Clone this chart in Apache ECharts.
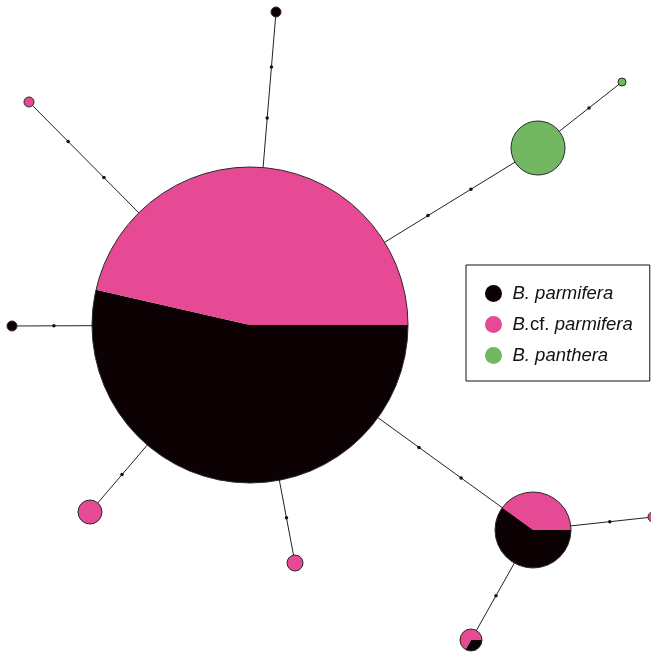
<!DOCTYPE html>
<html><head><meta charset="utf-8">
<script src="https://cdn.jsdelivr.net/npm/echarts@6/dist/echarts.min.js"></script>
<style>html,body{margin:0;padding:0;background:#fff}#c{width:651px;height:652px}</style>
</head><body><div id="c"></div>
<script>
// Haplotype nodes
const nodeNames = ['H1','H2','H3','H4','H5','H6','H7','H8','H9','H10','H11'];
const nodeX     = [250, 276,  29,  12,  90, 295, 538, 622, 533, 653, 471];
const nodeY     = [325,  12, 102, 326, 512, 563, 148,  82, 530, 517, 640];
const nodeSize  = [158,   5,   5,   5,  12,   8,  27,   4,  38,   5,  11];
const countParmifera   = [15, 1, 0, 1, 0, 0, 0, 0, 3, 0, 1];
const countCfParmifera = [13, 0, 1, 0, 1, 1, 0, 0, 2, 1, 2];
const countPanthera    = [ 0, 0, 0, 0, 0, 0, 1, 1, 0, 0, 0];
// Edges (index of node)
const edgeFrom = [0, 0, 0, 0, 0, 0, 6, 0, 8, 8];
const edgeTo   = [1, 2, 3, 4, 5, 6, 7, 8, 9, 10];
// Mutation steps: edge index and relative position along edge
const mutEdge = [0, 0, 1, 1, 2, 3, 4, 5, 5, 6, 7, 7, 8, 9];
const mutPos  = [0.661, 0.824, 0.661, 0.823, 0.824, 0.80, 0.81, 0.618, 0.767, 0.607, 0.597, 0.746, 0.64, 0.597];
const legendNames = ['B. parmifera', 'B.cf. parmifera', 'B. panthera'];
const colors = ['#0c0103', '#e64a95', '#72b862'];

const nodeData = nodeNames.map((n, i) => ({name: n, value: [nodeX[i], nodeY[i], nodeSize[i], countParmifera[i], countCfParmifera[i], countPanthera[i]]}));
const edgeData = edgeFrom.map((f, i) => [nodeX[f], nodeY[f], nodeX[edgeTo[i]], nodeY[edgeTo[i]]]);
const mutData = mutEdge.map((e, i) => {
  const f = edgeFrom[e], t = edgeTo[e], p = mutPos[i];
  return [nodeX[f] + (nodeX[t] - nodeX[f]) * p, nodeY[f] + (nodeY[t] - nodeY[f]) * p];
});

const chart = echarts.init(document.getElementById('c'));
chart.setOption({
  animation: false,
  backgroundColor: '#fff',
  grid: {left: 0, right: 0, top: 0, bottom: 0},
  xAxis: {type: 'value', min: 0, max: 651, show: false},
  yAxis: {type: 'value', min: 0, max: 652, inverse: true, show: false},
  legend: {
    orient: 'vertical', left: 466, top: 265,
    padding: [19, 17, 16, 19],
    itemWidth: 28, itemHeight: 17, itemGap: 12,
    borderColor: '#111', borderWidth: 1,
    icon: 'circle',
    itemStyle: {opacity: 1},
    data: legendNames,
    formatter: function (name) {
      if (name === 'B.cf. parmifera') return '{i|B.}{n|cf.} {i|parmifera}';
      return '{i|' + name + '}';
    },
    textStyle: {
      fontFamily: 'Liberation Sans', fontSize: 18.5, color: '#111',
      rich: {
        i: {fontFamily: 'Liberation Sans', fontSize: 18.5, fontStyle: 'italic', color: '#111'},
        n: {fontFamily: 'Liberation Sans', fontSize: 18.5, fontStyle: 'normal', color: '#111'}
      }
    }
  },
  series: [
    {
      type: 'custom', name: 'edges', z: 1, silent: true,
      data: edgeData,
      renderItem: function (params, api) {
        const a = api.coord([api.value(0), api.value(1)]);
        const b = api.coord([api.value(2), api.value(3)]);
        return {type: 'line', shape: {x1: a[0], y1: a[1], x2: b[0], y2: b[1]}, style: {stroke: '#222', lineWidth: 1}};
      }
    },
    {
      type: 'scatter', name: 'mutations', z: 2, silent: true,
      symbolSize: 3.5, itemStyle: {color: '#111', opacity: 1},
      data: mutData
    },
    {
      type: 'custom', name: 'nodes', z: 3, silent: true, clip: false,
      data: nodeData,
      renderItem: function (params, api) {
        const c = api.coord([api.value(0), api.value(1)]);
        const r = api.size([api.value(2), 0])[0];
        const counts = [api.value(3), api.value(4), api.value(5)];
        const total = counts[0] + counts[1] + counts[2];
        const children = [];
        let a = 0;
        counts.forEach(function (n, k) {
          if (!n) return;
          const da = n / total * Math.PI * 2;
          if (n === total) {
            children.push({type: 'circle', shape: {cx: c[0], cy: c[1], r: r}, style: {fill: colors[k]}});
          } else {
            children.push({type: 'sector', shape: {cx: c[0], cy: c[1], r0: 0, r: r, startAngle: a, endAngle: a + da, clockwise: true}, style: {fill: colors[k]}});
          }
          a += da;
        });
        children.push({type: 'circle', shape: {cx: c[0], cy: c[1], r: r}, style: {fill: 'none', stroke: '#2a2a2a', lineWidth: 1}});
        return {type: 'group', children: children};
      }
    },
    {type: 'scatter', name: legendNames[0], data: [], itemStyle: {color: colors[0], opacity: 1}},
    {type: 'scatter', name: legendNames[1], data: [], itemStyle: {color: colors[1], opacity: 1}},
    {type: 'scatter', name: legendNames[2], data: [], itemStyle: {color: colors[2], opacity: 1}}
  ]
});
</script></body></html>
